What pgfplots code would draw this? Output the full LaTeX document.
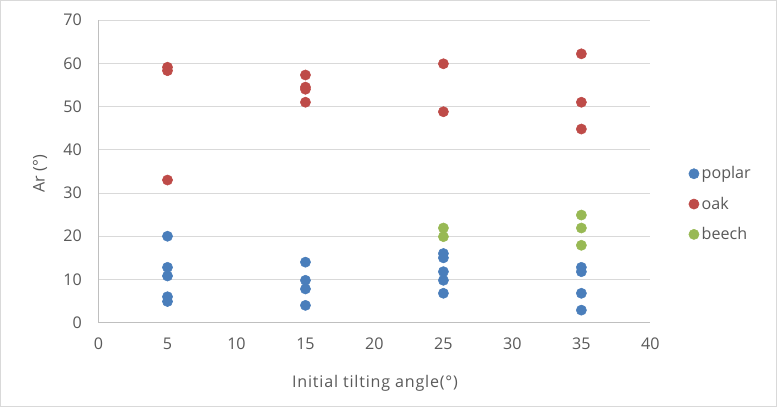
\documentclass[border=0pt]{standalone}
\usepackage{fontspec}
\setmainfont{Open Sans}
\newfontfamily\spaced[LetterSpace=5]{Open Sans}
\usepackage{pgfplots}
\pgfplotsset{compat=1.18}
\definecolor{cblue}{RGB}{74,126,187}
\definecolor{cred}{RGB}{190,75,72}
\definecolor{cgreen}{RGB}{152,185,84}
\definecolor{txt}{RGB}{89,89,89}
\definecolor{gridc}{RGB}{217,217,217}
\definecolor{axc}{RGB}{191,191,191}
\begin{document}
\begin{tikzpicture}[x=0.75pt,y=0.75pt]
\draw[color=gridc,line width=0.75pt] (2.5,2.5) rectangle (774.5,406.5);
\begin{axis}[
  at={(100pt*0.75,86pt*0.75)}, anchor=south west,
  scale only axis, width=411.75pt, height=225.75pt,
  xmin=0, xmax=40, ymin=0, ymax=70,
  xtick={0,5,...,40}, ytick={0,10,...,70},
  axis x line*=bottom, axis y line*=left,
  axis line style={draw=axc,line width=0.75pt,-},
  major tick length=0pt,
  ymajorgrids, grid style={draw=gridc,line width=0.75pt},
  tick label style={font=\fontsize{12}{14}\selectfont, text=txt},
  /pgf/number format/assume math mode=true,
  xticklabel style={yshift=-8pt},
  yticklabel style={xshift=-9pt},
  xlabel={\spaced Initial tilting angle(°)},
  ylabel={Ar (°)},
  label style={font=\fontsize{12}{14}\selectfont, text=txt},
  xlabel style={at={(axis description cs:0.501,-0.199)},anchor=center},
  ylabel style={at={(axis description cs:-0.106,0.492)},anchor=center,rotate=0},
  legend style={at={(axis description cs:1.062,0.392)},anchor=west,draw=none,fill=none,
    font=\fontsize{12}{14}\selectfont, text=txt, row sep=8pt,
    /tikz/every even column/.append style={column sep=0pt}},
  legend cell align=left,
  legend image code/.code={\draw[#1] plot coordinates {(0.1cm,0cm)};},
  clip=false,
]
\addplot[only marks, mark=*, mark size=3.8pt, color=cblue, mark options={draw=cblue,fill=cblue}] coordinates {
(5,20) (5,12.8) (5,10.8) (5,6) (5,4.9)
(15,14) (15,9.8) (15,7.8) (15,4)
(25,16) (25,15) (25,11.8) (25,9.8) (25,6.8)
(35,12.8) (35,11.8) (35,6.8) (35,2.9)
};
\addlegendentry{poplar}
\addplot[only marks, mark=*, mark size=3.8pt, color=cred, mark options={draw=cred,fill=cred}] coordinates {
(5,59.1) (5,58.3) (5,33)
(15,57.3) (15,54.5) (15,54) (15,51)
(25,59.9) (25,48.8)
(35,62.2) (35,51) (35,44.8)
};
\addlegendentry{oak}
\addplot[only marks, mark=*, mark size=3.8pt, color=cgreen, mark options={draw=cgreen,fill=cgreen}] coordinates {
(25,21.9) (25,19.9)
(35,24.9) (35,21.9) (35,17.9)
};
\addlegendentry{beech}
\end{axis}
\end{tikzpicture}
\end{document}
